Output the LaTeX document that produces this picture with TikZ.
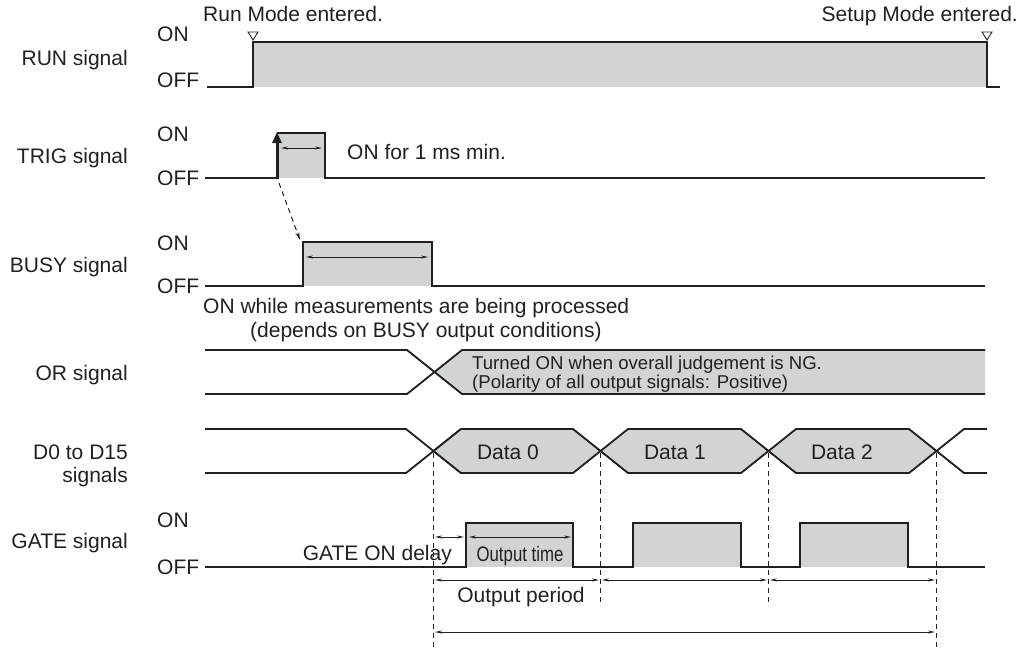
\documentclass[tikz,border=0pt]{standalone}
\usepackage{fontspec}
\usepackage{graphicx}
\setmainfont{Liberation Sans}
\usetikzlibrary{arrows.meta}
\definecolor{ink}{HTML}{231F20}
\definecolor{sig}{HTML}{D1D3D4}
\begin{document}
\begin{tikzpicture}[x=1pt,y=-1pt,
  txt/.style={font=\fontsize{21}{24}\selectfont, text=ink, inner sep=0pt},
  smalltxt/.style={font=\fontsize{18.6}{20}\selectfont, text=ink, inner sep=0pt},
  wave/.style={draw=ink, line width=1.8pt, line join=miter},
  shade/.style={fill=sig, draw=none},
  dimarrow/.style={draw=ink, line width=0.8pt, {Stealth[length=7pt,width=3pt]}-{Stealth[length=7pt,width=3pt]}},
  guide/.style={draw=ink, line width=1pt, dash pattern=on 5pt off 4pt},
  marker/.style={draw=ink, line width=0.9pt, fill=white},
  hexbox/.style={fill=sig, draw=ink, line width=1.8pt, line join=miter}
]
\useasboundingbox (0,0) rectangle (1026,651);

% ---------- left labels ----------
\node[txt, anchor=base east] (lrun)  at (128,65)  {RUN signal};
\node[txt, anchor=base east] (ltrig) at (128,163) {TRIG signal};
\node[txt, anchor=base east] (lbusy) at (128,272) {BUSY signal};
\node[txt, anchor=base east] (lor)   at (128,380) {OR signal};
\node[txt, anchor=base east] (ld1)   at (128,459) {D0 to D15};
\node[txt, anchor=base east] (ld2)   at (128,482) {signals};
\node[txt, anchor=base east] (lgate) at (128,548) {GATE signal};

\node[txt, anchor=base west] (runon)   at (157,41)  {ON};
\node[txt, anchor=base west] (runoff)  at (157,87)  {OFF};
\node[txt, anchor=base west] (trigon)  at (157,141) {ON};
\node[txt, anchor=base west] (trigoff) at (157,185) {OFF};
\node[txt, anchor=base west] (busyon)  at (157,250) {ON};
\node[txt, anchor=base west] (busyoff) at (157,293) {OFF};
\node[txt, anchor=base west] (gateon)  at (157,527) {ON};
\node[txt, anchor=base west] (gateoff) at (157,574) {OFF};

% ---------- RUN ----------
\fill[shade] (253,42) rectangle (987,87);
\draw[wave] (207,87) -- (253,87) -- (253,42) -- (987,42) -- (987,87) -- (1000,87);
\draw[marker] (248,32) -- (258,32) -- (253,40) -- cycle;
\draw[marker] (982,32) -- (992,32) -- (987,40) -- cycle;
\node[txt, anchor=base west] (runmode) at (203,21) {Run Mode entered.};
\node[txt, anchor=base east] (setupmode) at (1018,21) {Setup Mode entered.};

% ---------- TRIG ----------
\fill[shade] (277,133) rectangle (325,178);
\draw[wave] (205,178) -- (277,178);
\draw[wave] (277,133) -- (325,133) -- (325,178) -- (985,178);
\coordinate (trigbase) at (277,179);
\coordinate (trigtop) at (277,132);
\draw[draw=ink, line width=3pt, -{Triangle[length=11pt,width=9pt]}] (trigbase) -- (trigtop);
\coordinate (tpa) at (281,148);
\coordinate (tpb) at (322,148);
\draw[dimarrow] (tpa) -- (tpb);
\node[txt, anchor=base west] (trignote) at (347,159) {ON for 1 ms min.};
\coordinate (trigfrom) at (279,183);
\coordinate (busyto) at (300,240);
\draw[guide, -{Stealth[length=8pt,width=4pt]}] (trigfrom) -- (busyto);

% ---------- BUSY ----------
\fill[shade] (303,242) rectangle (432,286);
\draw[wave] (205,286) -- (303,286) -- (303,242) -- (432,242) -- (432,286) -- (985,286);
\coordinate (bpa) at (306,257);
\coordinate (bpb) at (428,257);
\draw[dimarrow] (bpa) -- (bpb);
\node[txt, anchor=base west] (busynote1) at (203,313) {ON while measurements are being processed};
\node[txt, anchor=base west] (busynote2) at (250,337) {(depends on BUSY output conditions)};

% ---------- OR ----------
\fill[shade] (434.5,372) -- (462,350) -- (985,350) -- (985,394) -- (462,394) -- cycle;
\draw[wave] (205,350) -- (407,350) -- (462,394) -- (985,394);
\draw[wave] (205,394) -- (407,394) -- (462,350) -- (985,350);
\node[smalltxt, anchor=base west] (ornote1) at (472,369) {Turned ON when overall judgement is NG.};
\node[smalltxt, anchor=base west] (ornote2) at (472,388) {(Polarity of all output signals: Positive)};

% ---------- D0 to D15 ----------
\draw[wave] (205,429) -- (406,429) -- (461,473);
\draw[wave] (205,473) -- (406,473) -- (461,429);
\draw[hexbox] (433.5,451) -- (461,429) -- (573,429) -- (600.5,451) -- (573,473) -- (461,473) -- cycle;
\draw[hexbox] (600.5,451) -- (628,429) -- (741,429) -- (768.5,451) -- (741,473) -- (628,473) -- cycle;
\draw[hexbox] (768.5,451) -- (796,429) -- (909,429) -- (936.5,451) -- (909,473) -- (796,473) -- cycle;
\draw[wave] (936.5,451) -- (964,429) -- (987,429);
\draw[wave] (936.5,451) -- (964,473) -- (987,473);
\node[txt, anchor=base] (data0) at (508,459) {Data 0};
\node[txt, anchor=base] (data1) at (675,459) {Data 1};
\node[txt, anchor=base] (data2) at (842,459) {Data 2};

% ---------- guides ----------
\coordinate (g0t) at (433.5,453); \coordinate (g0b) at (433.5,650);
\coordinate (g1t) at (600.5,453); \coordinate (g1b) at (600.5,606);
\coordinate (g2t) at (768.5,453); \coordinate (g2b) at (768.5,606);
\coordinate (g3t) at (936.5,453); \coordinate (g3b) at (936.5,650);
\draw[guide] (g0t) -- (g0b);
\draw[guide] (g1t) -- (g1b);
\draw[guide] (g2t) -- (g2b);
\draw[guide] (g3t) -- (g3b);

% ---------- GATE ----------
\fill[shade] (466,523) rectangle (573,567);
\fill[shade] (633,523) rectangle (741,567);
\fill[shade] (800,523) rectangle (908,567);
\draw[wave] (205,567) -- (466,567) -- (466,523) -- (573,523) -- (573,567) -- (633,567) -- (633,523) -- (741,523) -- (741,567) -- (800,567) -- (800,523) -- (908,523) -- (908,567) -- (985,567);
\coordinate (dla) at (435,537); \coordinate (dlb) at (464,537);
\coordinate (ota) at (469,537); \coordinate (otb) at (571,537);
\draw[dimarrow] (dla) -- (dlb);
\draw[dimarrow] (ota) -- (otb);
\node[txt, anchor=base east] (gatedelay) at (452,560) {GATE ON delay};
\node[txt, anchor=base] (outtime) at (520,561) {\scalebox{0.8}[1]{Output time}};

\coordinate (p0) at (435,580); \coordinate (p1a) at (599,580);
\coordinate (p1b) at (602,580); \coordinate (p2a) at (767,580);
\coordinate (p2b) at (770,580); \coordinate (p3) at (935,580);
\draw[dimarrow] (p0) -- (p1a);
\draw[dimarrow] (p1b) -- (p2a);
\draw[dimarrow] (p2b) -- (p3);
\node[txt, anchor=base] (outperiod) at (521,602) {Output period};

\coordinate (ba) at (435,632); \coordinate (bb) at (935,632);
\draw[dimarrow] (ba) -- (bb);
\end{tikzpicture}
\end{document}
